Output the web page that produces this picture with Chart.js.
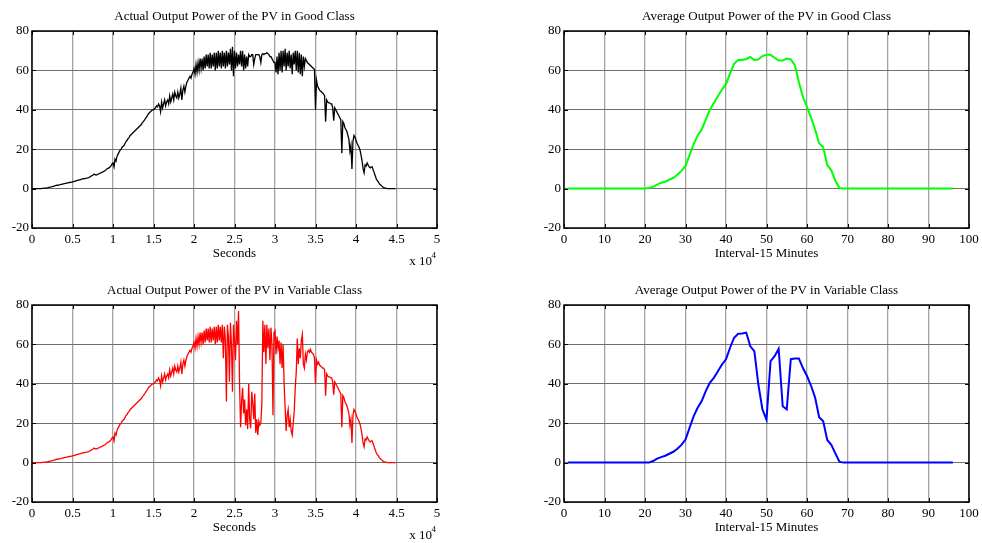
<!DOCTYPE html>
<html lang="en">
<head>
    <meta charset="UTF-8">
    <title>PV Output Power</title>
    <style>
        body{
            margin: 0;
            background: #fff;
            width: 982px;
            height: 543px;
            overflow: hidden;
            position: relative;
        }
        .panel{
            position: absolute;
            width: 460px;
            height: 272px;
        }
    </style>
</head>
<body>
    <div class="panel" style="left:0;top:0"><canvas id="goodActual" width="460" height="272"></canvas></div>
    <div class="panel" style="left:532px;top:0"><canvas id="goodAverage" width="460" height="272"></canvas></div>
    <div class="panel" style="left:0;top:274px"><canvas id="variableActual" width="460" height="272"></canvas></div>
    <div class="panel" style="left:532px;top:274px"><canvas id="variableAverage" width="460" height="272"></canvas></div>

    <script src="https://cdn.jsdelivr.net/npm/chart.js@4.4.1/dist/chart.umd.min.js"></script>
    <script>
// measured power is sampled every 125 s, starting at 0 s (one row = 1000 s)
const secondsStep = 125;

const goodPower = [
    0, 0, 0, 0, 0, 0, 0, 0,
    0, 0, 0.1, 0.15, 0.2, 0.25, 0.3, 0.4,
    0.5, 0.65, 0.8, 0.9, 1.0, 1.15, 1.3, 1.45,
    1.6, 1.7, 1.8, 1.9, 2.0, 2.15, 2.3, 2.4,
    2.5, 2.6, 2.7, 2.85, 3.0, 3.1, 3.2, 3.3,
    3.4, 3.55, 3.7, 3.85, 4.0, 4.15, 4.3, 4.45,
    4.6, 4.75, 4.9, 5.0, 5.1, 5.2, 5.3, 5.45,
    5.6, 5.9, 6.2, 6.5, 6.8, 7.3, 7.2, 6.9,
    7.0, 7.3, 7.5, 7.8, 8.0, 8.2, 8.5, 8.8,
    9.0, 9.5, 10, 10.3, 10.5, 11, 11.5, 12.5,
    13, 11, 15, 14, 16.5, 17.5, 18.5, 19.5,
    20, 21, 21.5, 22, 23, 24, 24.5, 25.5,
    26, 27, 27.5, 28, 28.5, 29, 29.5, 30,
    30.5, 31, 31.5, 32, 32.5, 33.5, 34, 34.8,
    35.5, 36.3, 37, 38, 38.5, 39, 39.5, 40,
    40, 40.5, 41, 42, 41.5, 43, 42, 39,
    44, 41, 43, 45, 42, 44, 45, 43,
    47, 44, 46, 48, 45, 49, 47, 46,
    49, 46, 48, 51, 45, 50, 52, 49,
    52, 54, 55, 56, 57, 56, 58, 59,
    61, 58, 63, 59, 64, 60, 66, 61,
    66, 60, 67, 61, 68, 62, 68, 61,
    69, 61, 68, 62, 69, 60, 69, 61,
    70, 62, 69, 61, 70, 62, 69, 61,
    70, 62, 69, 63, 71, 60, 72, 57,
    70, 61, 69, 62, 68, 63, 70, 62,
    70, 60, 68, 61, 67, 62, 68, 67,
    67, 68, 68, 63, 66, 68, 68, 68,
    68, 67, 64, 68, 68.5, 68, 68.5, 68.5,
    69, 68.5, 68, 67, 67, 66, 65, 64,
    64, 59, 67, 58, 69, 60, 70, 59,
    70, 62, 71, 60, 69, 62, 70, 61,
    68, 58, 69, 63, 70, 60, 70, 59,
    69, 58, 68, 57, 67, 62, 66, 65,
    64, 63.5, 63, 62.5, 62, 61.5, 61, 60.5,
    40, 55, 52, 51, 50, 49.5, 49, 48.5,
    48, 47, 34, 45, 44, 43.5, 43.5, 43,
    43, 41, 34.5, 41, 40, 39, 38, 37,
    36, 35, 18, 34, 33, 31, 30, 29,
    27, 25, 19, 22, 10, 24, 27, 26,
    24.5, 23, 22, 21, 19.5, 17, 14, 10,
    8, 12, 11.5, 13, 12, 11, 10.5, 11,
    11, 9.5, 8, 6.5, 5, 4, 3.5, 2.5,
    2, 1.5, 1, 0.6, 0.3, 0.2, 0.1, 0,
    0, 0, 0, 0, 0, 0, 0, 0
];

const variablePower = [
    0, 0, 0, 0, 0, 0, 0, 0,
    0, 0, 0.1, 0.15, 0.2, 0.25, 0.3, 0.4,
    0.5, 0.65, 0.8, 0.9, 1.0, 1.15, 1.3, 1.45,
    1.6, 1.7, 1.8, 1.9, 2.0, 2.15, 2.3, 2.4,
    2.5, 2.6, 2.7, 2.85, 3.0, 3.1, 3.2, 3.3,
    3.4, 3.55, 3.7, 3.85, 4.0, 4.15, 4.3, 4.45,
    4.6, 4.75, 4.9, 5.0, 5.1, 5.2, 5.3, 5.45,
    5.6, 5.9, 6.2, 6.5, 6.8, 7.3, 7.2, 6.9,
    7.0, 7.3, 7.5, 7.8, 8.0, 8.2, 8.5, 8.8,
    9.0, 9.5, 10, 10.3, 10.5, 11, 11.5, 12.5,
    13, 11, 15, 14, 16.5, 17.5, 18.5, 19.5,
    20, 21, 21.5, 22, 23, 24, 24.5, 25.5,
    26, 27, 27.5, 28, 28.5, 29, 29.5, 30,
    30.5, 31, 31.5, 32, 32.5, 33.5, 34, 34.8,
    35.5, 36.3, 37, 38, 38.5, 39, 39.5, 40,
    40, 40.5, 41, 42, 41.5, 43, 42, 39,
    44, 41, 43, 45, 42, 44, 45, 43,
    47, 44, 46, 48, 45, 49, 47, 46,
    49, 46, 48, 51, 45, 50, 52, 49,
    52, 54, 55, 56, 57, 56, 58, 59,
    61, 58, 63, 59, 64, 60, 66, 61,
    66, 60, 67, 61, 68, 62, 68, 61,
    69, 61, 68, 62, 69, 60, 69, 61,
    70, 62, 69, 61, 70, 53, 69, 62,
    31, 70, 64, 41, 71, 60, 36, 70,
    62, 52, 72, 60, 77, 40, 18, 31,
    38, 25, 32, 19, 27, 17, 40, 22,
    17.5, 36, 30, 22, 35, 15, 22, 14,
    21, 19, 20, 30, 72, 56, 70, 50,
    70, 58, 68, 52, 68.5, 60, 24, 66,
    67, 55, 64, 58, 62, 50, 61, 48,
    60, 40, 28, 16, 24, 27, 18, 22,
    16, 14, 20, 26, 38, 46, 63, 50,
    58, 53, 62, 65, 50, 48, 55, 52,
    56, 57, 56, 57.5, 56, 55.5, 55, 53,
    40, 52, 50, 51, 49.5, 49, 48.5, 48,
    48, 47, 34, 45, 44, 43.5, 43.5, 43,
    43, 41, 34.5, 41, 40, 39, 38, 37,
    36, 35, 18, 34, 33, 31, 30, 29,
    27, 25, 19, 22, 10, 24, 27, 26,
    24.5, 23, 22, 21, 19.5, 17, 14, 10,
    8, 12, 11.5, 13, 12, 11, 10.5, 11,
    11, 9.5, 8, 6.5, 5, 4, 3.5, 2.5,
    2, 1.5, 1, 0.6, 0.3, 0.2, 0.1, 0,
    0, 0, 0, 0, 0, 0, 0, 0
];

// 15-minute interval averages, intervals 1..96
const goodAverage = [
    0, 0, 0, 0, 0, 0, 0, 0, 0, 0,
    0, 0, 0, 0, 0, 0, 0, 0, 0, 0,
    0.3, 1, 2, 3, 3.5, 4.5, 5.5, 7, 9, 11.5,
    17, 22.5, 27, 30, 35, 40, 43.4, 46.9, 50.3, 53,
    58.5, 63.3, 65.3, 65.3, 65.8, 66.8, 65.2, 65.6, 67.3, 68,
    68, 66.4, 65, 65, 66, 65.6, 62.7, 54, 46.5, 41.5,
    36, 30, 23, 21, 12, 9.3, 4, 0.3, 0, 0,
    0, 0, 0, 0, 0, 0, 0, 0, 0, 0,
    0, 0, 0, 0, 0, 0, 0, 0, 0, 0,
    0, 0, 0, 0, 0, 0
];

const variableAverage = [
    0, 0, 0, 0, 0, 0, 0, 0, 0, 0,
    0, 0, 0, 0, 0, 0, 0, 0, 0, 0,
    0, 0.8, 2, 2.8, 3.5, 4.5, 5.5, 7, 9, 11.7,
    17.6, 23.5, 27.8, 31.2, 36.3, 40.5, 43, 46.4, 49.8, 52.4,
    58.3, 63.4, 65.4, 65.5, 66, 59, 56.6, 39.5, 27, 21.8,
    51.5, 54, 57.8, 28.6, 27, 52.5, 52.8, 52.8, 48, 44,
    39, 33, 23, 21, 11.5, 9, 4.7, 0.5, 0, 0,
    0, 0, 0, 0, 0, 0, 0, 0, 0, 0,
    0, 0, 0, 0, 0, 0, 0, 0, 0, 0,
    0, 0, 0, 0, 0, 0
];

const secondsTickLabels = ["0", "0.5", "1", "1.5", "2", "2.5", "3", "3.5", "4", "4.5", "5"];
const powerTicks = [-20, 0, 20, 40, 60, 80];

Chart.defaults.font.family = "'Liberation Serif', 'Times New Roman', serif";
Chart.defaults.font.size = 13;
Chart.defaults.color = "#000";

// matlab style box: black frame with short inward tick marks, plus the axis exponent
const frame = {
    id: "frame",
    afterDraw(chart, args, opts) {
        const {ctx, chartArea: a, scales} = chart;
        const x = scales.x, y = scales.y;
        ctx.save();
        ctx.strokeStyle = "#000";
        ctx.lineWidth = 1;
        ctx.beginPath();
        x.ticks.forEach(t => {
            const px = Math.round(x.getPixelForValue(t.value)) + 0.5;
            ctx.moveTo(px, a.top); ctx.lineTo(px, a.top + 4);
            ctx.moveTo(px, a.bottom); ctx.lineTo(px, a.bottom - 4);
        });
        y.ticks.forEach(t => {
            const py = Math.round(y.getPixelForValue(t.value)) + 0.5;
            ctx.moveTo(a.left, py); ctx.lineTo(a.left + 4, py);
            ctx.moveTo(a.right, py); ctx.lineTo(a.right - 4, py);
        });
        ctx.stroke();
        ctx.lineWidth = 1.5;
        ctx.strokeRect(a.left, a.top, a.right - a.left, a.bottom - a.top);
        if (opts.exponent) {
            ctx.fillStyle = "#000";
            ctx.textAlign = "right";
            ctx.textBaseline = "alphabetic";
            ctx.font = "13px 'Liberation Serif'";
            ctx.fillText("x 10", a.right - 5, a.bottom + 37);
            ctx.font = "9px 'Liberation Serif'";
            ctx.fillText(opts.exponent, a.right - 1, a.bottom + 30);
        }
        ctx.restore();
    }
};

function makeChart(id, title, xTitle, points, color, width, xOpts, exponent) {
    return new Chart(document.getElementById(id), {
        type: "line",
        data: {
            datasets: [{
                data: points,
                borderColor: color,
                borderWidth: width,
                pointRadius: 0,
                tension: 0,
                fill: false,
            }],
        },
        options: {
            responsive: false,
            animation: false,
            events: [],
            layout: { padding: { left: 0, right: 23, top: 0, bottom: 0 } },
            plugins: {
                legend: { display: false },
                tooltip: { enabled: false },
                title: {
                    display: true,
                    text: title,
                    fullSize: false,
                    font: { size: 13, weight: "normal" },
                    padding: { top: 8.9, bottom: 6.5 },
                },
                frame: { exponent: exponent },
            },
            scales: {
                x: Object.assign({
                    type: "linear",
                    grid: { color: "#a2a2a2", lineWidth: 1.3, drawTicks: false },
                    border: { display: false },
                    title: { display: true, text: xTitle, padding: { top: 0, bottom: 10.5 } },
                    afterFit: scale => { scale.height = 44; },
                }, xOpts),
                y: {
                    min: -20,
                    max: 80,
                    grid: { color: "#707070", lineWidth: 1, drawTicks: false },
                    border: { display: false },
                    ticks: { stepSize: 20, padding: 3, callback: v => powerTicks.includes(v) ? String(v) : "" },
                    afterFit: scale => { scale.width = 32; },
                },
            },
        },
        plugins: [frame],
    });
}

const secondsAxis = {
    min: 0,
    max: 50000,
    ticks: { stepSize: 5000, padding: 4, maxRotation: 0, callback: (v, i) => secondsTickLabels[i] },
};
const intervalAxis = {
    min: 0,
    max: 100,
    ticks: { stepSize: 10, padding: 4, maxRotation: 0 },
};

makeChart("goodActual", "Actual Output Power of the PV in Good Class", "Seconds",
    goodPower.map((p, i) => ({ x: i * secondsStep, y: p })), "#000", 1.3, secondsAxis, "4");
makeChart("goodAverage", "Average Output Power of the PV in Good Class", "Interval-15 Minutes",
    goodAverage.map((p, i) => ({ x: i + 1, y: p })), "#00ff00", 2, intervalAxis);
makeChart("variableActual", "Actual Output Power of the PV in Variable Class", "Seconds",
    variablePower.map((p, i) => ({ x: i * secondsStep, y: p })), "#ff0000", 1.3, secondsAxis, "4");
makeChart("variableAverage", "Average Output Power of the PV in Variable Class", "Interval-15 Minutes",
    variableAverage.map((p, i) => ({ x: i + 1, y: p })), "#0000ff", 2, intervalAxis);
    </script>
</body>
</html>
